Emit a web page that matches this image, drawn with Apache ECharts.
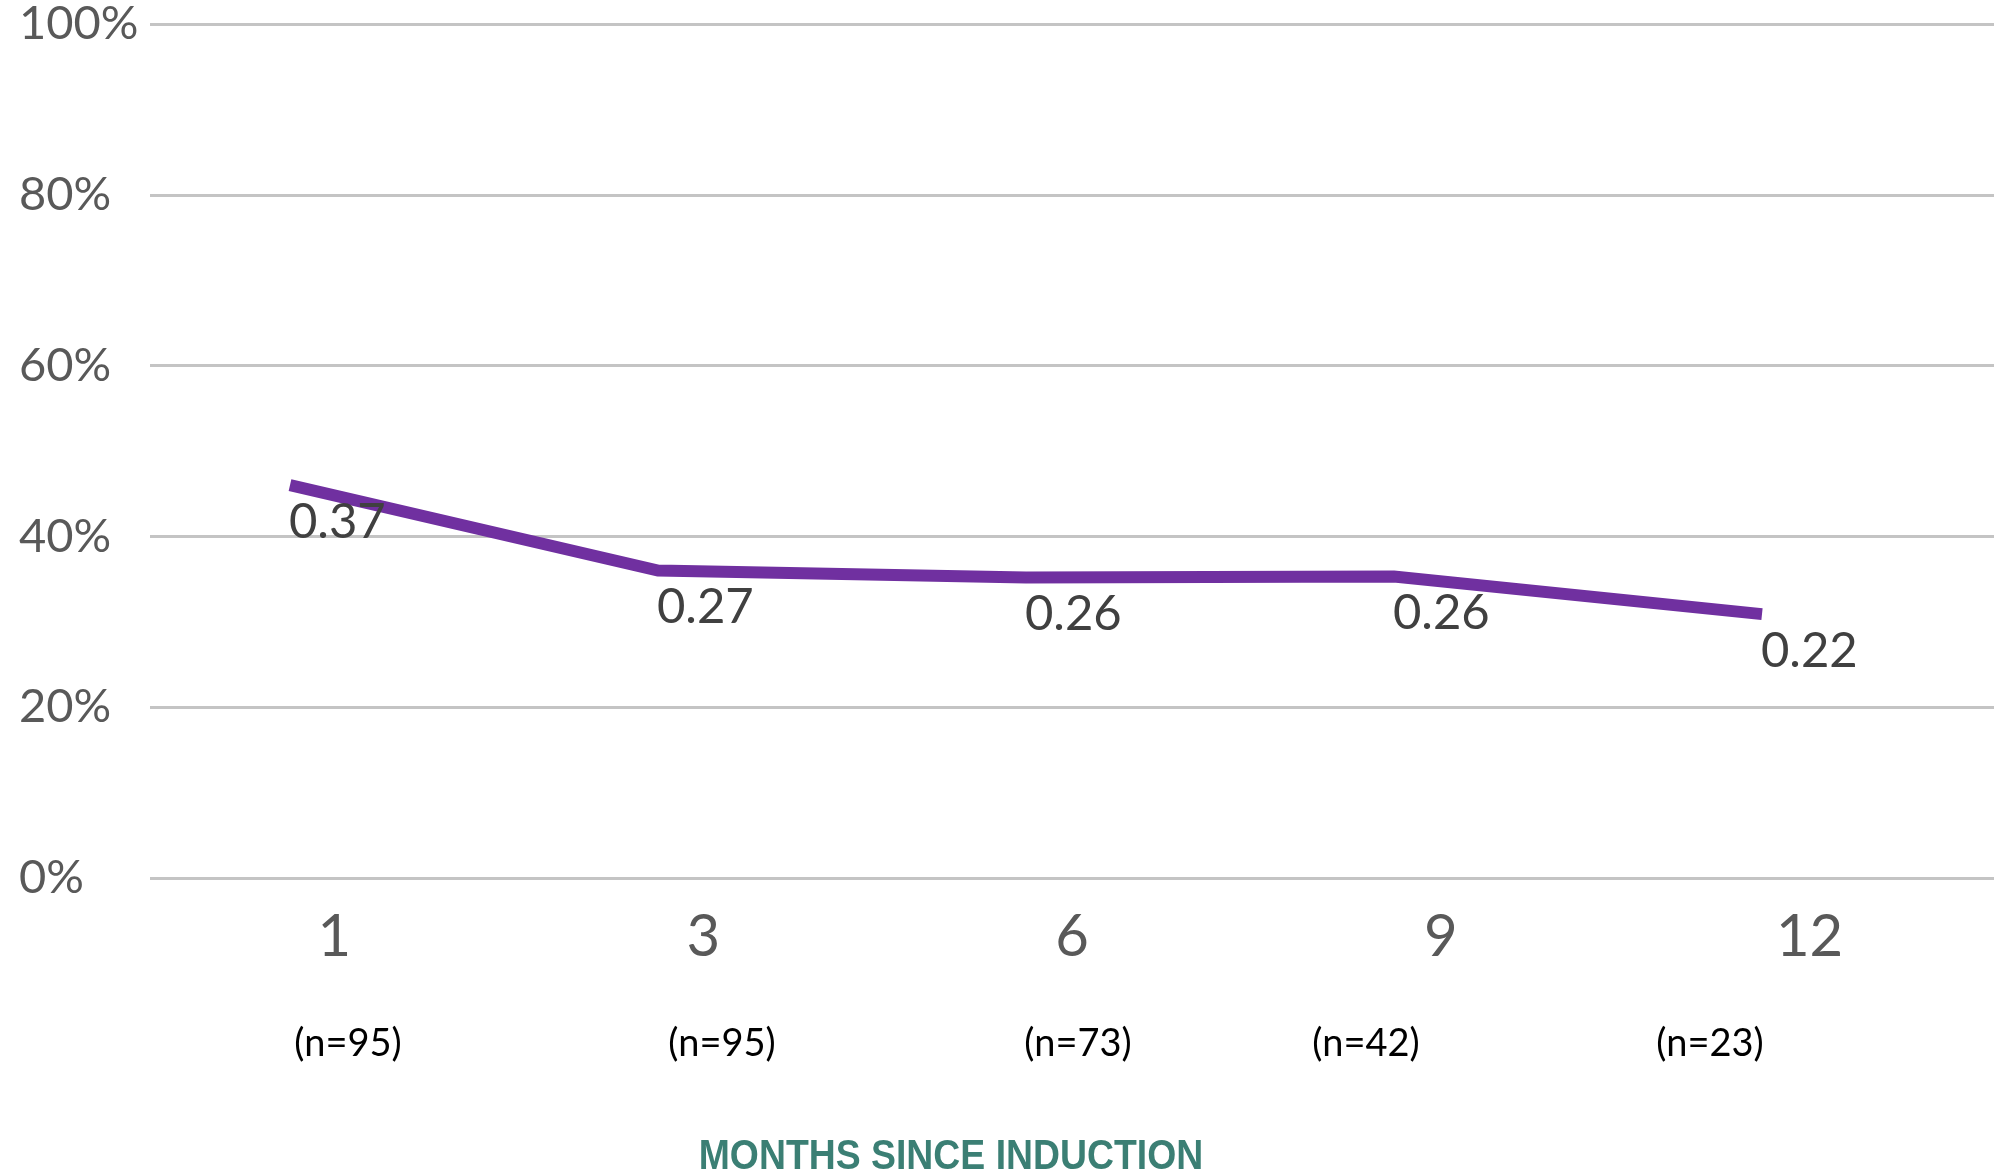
<!DOCTYPE html>
<html>
<head>
<meta charset="utf-8">
<script src="https://cdn.jsdelivr.net/npm/echarts@6/dist/echarts.min.js"></script>
<style>
html,body{margin:0;padding:0;background:#fff;}
#chart{width:1998px;height:1174px;}
</style>
</head>
<body>
<div id="chart"></div>
<script>
// ---- data ----
const months = ['1', '3', '6', '9', '12'];
const rates = [46.0, 36.0, 35.2, 35.3, 30.9];          // plotted line values (%)
const pointLabels = ['0.37', '0.27', '0.26', '0.26', '0.22']; // data label texts
const sampleSizes = ['(n=95)', '(n=95)', '(n=73)', '(n=42)', '(n=23)'];
const yTicks = [0, 20, 40, 60, 80, 100];
const axisTitle = 'MONTHS SINCE INDUCTION';

// ---- layout ----
const nLabelX = [348, 722, 1078, 1366, 1710];

const chart = echarts.init(document.getElementById('chart'), null, {renderer: 'canvas'});

const graphics = sampleSizes.map((t, i) => ({
  type: 'text',
  x: nLabelX[i],
  y: 1044,
  style: {
    text: t,
    fill: '#000000',
    font: '38px Lato',
    align: 'center',
    verticalAlign: 'middle'
  }
}));
graphics.push({
  type: 'text',
  x: 951,
  y: 1157,
  scaleX: 0.89,
  originX: 0,
  style: {
    text: axisTitle,
    fill: '#3b7f74',
    font: 'bold 42px "Liberation Sans"',
    align: 'center',
    verticalAlign: 'middle'
  }
});

chart.setOption({
  animation: false,
  backgroundColor: '#ffffff',
  grid: [
    {left: 150, right: 4, top: 24, bottom: 296},
    {left: 106, right: 52, top: 24, bottom: 296}
  ],
  xAxis: [
    {
      type: 'category',
      gridIndex: 0,
      data: months,
      boundaryGap: true,
      axisLine: {show: false},
      axisTick: {show: false},
      axisLabel: {
        color: '#595959',
        fontFamily: 'Lato',
        fontSize: 58,
        margin: 30
      },
      splitLine: {show: false}
    },
    {
      type: 'category',
      gridIndex: 1,
      data: months,
      boundaryGap: true,
      show: false
    }
  ],
  yAxis: [
    {
      type: 'value',
      gridIndex: 0,
      min: yTicks[0],
      max: yTicks[yTicks.length - 1],
      interval: yTicks[1] - yTicks[0],
      axisLine: {show: false},
      axisTick: {show: false},
      axisLabel: {
        formatter: '{value}%',
        color: '#595959',
        fontFamily: 'Lato',
        fontSize: 47,
        align: 'left',
        margin: 131,
        padding: [8, 0, 0, 0]
      },
      splitLine: {show: true, lineStyle: {color: '#c4c4c4', width: 3}}
    },
    {
      type: 'value',
      gridIndex: 1,
      min: yTicks[0],
      max: yTicks[yTicks.length - 1],
      show: false,
      splitLine: {show: false}
    }
  ],
  series: [
    {
      type: 'line',
      xAxisIndex: 1,
      yAxisIndex: 1,
      data: rates,
      symbol: 'circle',
      symbolSize: 0.1,
      showSymbol: true,
      itemStyle: {color: '#7030a0'},
      lineStyle: {color: '#7030a0', width: 12, cap: 'butt', join: 'miter'},
      label: {
        show: true,
        position: [-1, 37],
        align: 'left',
        verticalAlign: 'middle',
        formatter: (p) => pointLabels[p.dataIndex],
        color: '#404040',
        fontFamily: 'Lato',
        fontSize: 49
      },
      z: 3
    }
  ],
  graphic: graphics
});
</script>
</body>
</html>
